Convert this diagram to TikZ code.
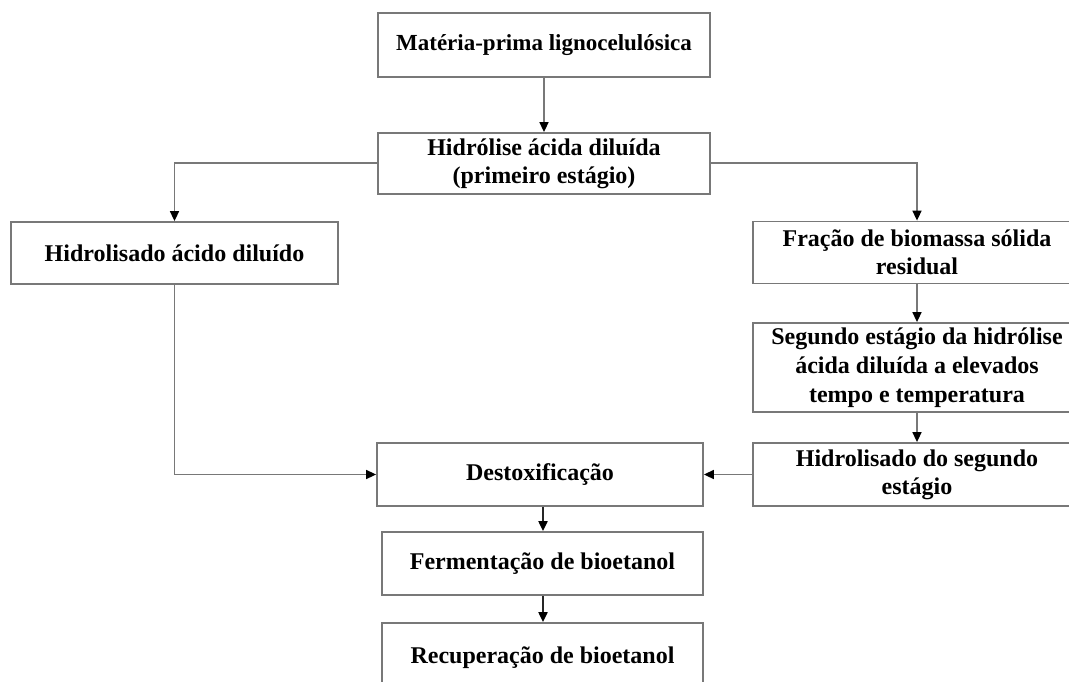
\documentclass[tikz,border=0pt]{standalone}
\usepackage{fontspec}
\setmainfont{Liberation Serif}
\usetikzlibrary{arrows.meta}
\definecolor{edge}{RGB}{120,120,120}
\tikzset{
  box/.style={draw=edge, line width=1.8pt, rectangle, align=center, inner sep=0pt,
    font=\fontsize{24}{28}\selectfont\bfseries, text=black},
  conn/.style={draw=edge, line width=1.6pt, -{Triangle[length=10pt,width=9pt,color=black]}},
  dconn/.style={draw=black!85, line width=2pt, -{Triangle[length=10pt,width=9pt,color=black]}}
}
\begin{document}
\begin{tikzpicture}[x=1pt,y=-1pt]
\useasboundingbox (0,0) rectangle (1069,681);
\clip (0,0) rectangle (1069,681);
\fill[white] (0,0) rectangle (1069,681);
\node[box, minimum width=332pt, minimum height=64pt, font=\fontsize{23}{28}\selectfont\bfseries] (m1) at (544,45) {Matéria-prima lignocelulósica};
\node[box, minimum width=332pt, minimum height=61pt] (hid) at (544,163.5) {Hidrólise ácida diluída\\(primeiro estágio)};
\node[box, minimum width=327pt, minimum height=62pt] (hda) at (174.5,253) {Hidrolisado ácido diluído};
\node[box, minimum width=328pt, minimum height=62pt] (frac) at (917,252.5) {Fração de biomassa sólida\\residual};
\node[box, minimum width=328pt, minimum height=89pt, font=\fontsize{24}{29}\selectfont\bfseries] (seg) at (917,367.5) {Segundo estágio da hidrólise\\ácida diluída a elevados\\tempo e temperatura};
\node[box, minimum width=328pt, minimum height=63pt] (h2) at (917,474.5) {Hidrolisado do segundo\\estágio};
\node[box, minimum width=326pt, minimum height=63pt] (dest) at (540,474.5) {Destoxificação};
\node[box, minimum width=321pt, minimum height=63pt] (ferm) at (542.5,563.5) {Fermentação de bioetanol};
\node[box, minimum width=321pt, minimum height=70pt] (rec) at (542.5,658) {Recuperação de bioetanol};

\draw[conn] (m1.south) -- (hid.north);
\draw[conn] (hid.west |- 0,163) -| (hda.north);
\draw[conn] (hid.east |- 0,163) -| (frac.north);
\draw[conn] (frac.south) -- (seg.north);
\draw[conn] (seg.south) -- (h2.north);
\draw[conn] (hda.south) |- (dest.west);
\draw[conn] (h2.west) -- (dest.east);
\draw[dconn] (dest.south -| 543,0) -- (ferm.north -| 543,0);
\draw[dconn] (ferm.south -| 543,0) -- (rec.north -| 543,0);
\end{tikzpicture}
\end{document}
